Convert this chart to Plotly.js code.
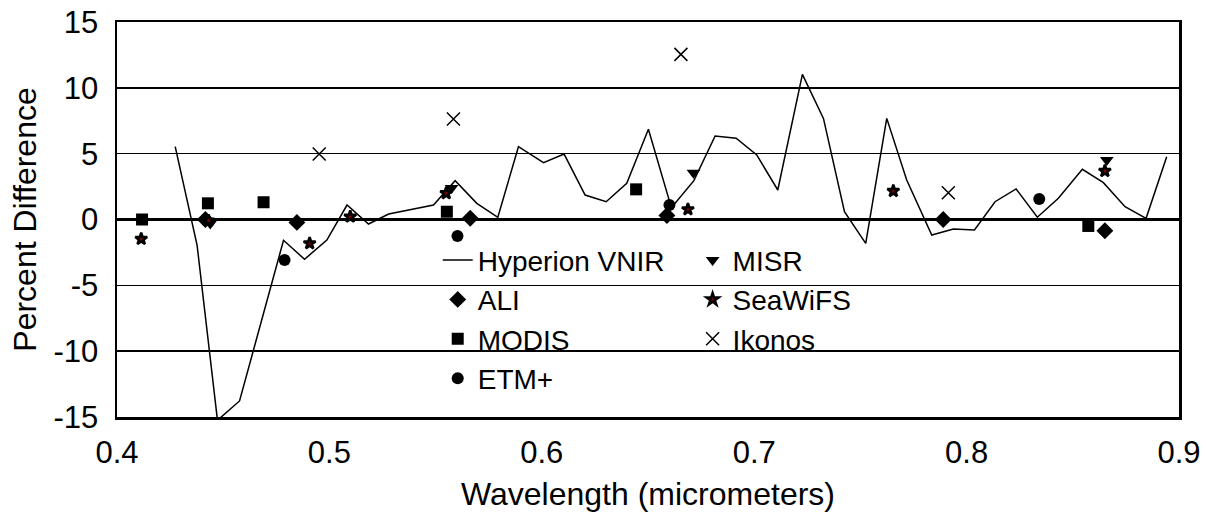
<!DOCTYPE html>
<html>
<head>
<meta charset="utf-8">
<script src="https://cdn.plot.ly/plotly-3.0.1.min.js"></script>
<style>html,body{margin:0;padding:0;background:#fff;}#chart{width:1206px;height:517px;}</style>
</head>
<body>
<div id="chart"></div>
<script>
// Hyperion VNIR continuous curve
const hyperionWl = [0.4274,0.4377,0.4473,0.4577,0.4784,0.4883,0.4988,0.5083,0.5184,0.5279,0.549,0.5592,0.5694,0.5793,0.589,0.6008,0.6105,0.6204,0.6303,0.64,0.6502,0.661,0.6716,0.6816,0.6915,0.7012,0.7111,0.7227,0.7326,0.7425,0.7525,0.7624,0.7718,0.7836,0.7938,0.8037,0.8134,0.8233,0.8333,0.8432,0.8545,0.8644,0.8746,0.8845,0.8942];
const hyperionVal = [5.53,-1.94,-15.25,-13.78,-1.58,-3.02,-1.56,1.10,-0.34,0.42,1.10,2.95,1.23,0.17,5.53,4.31,4.97,1.86,1.35,2.75,6.85,0.9,2.95,6.34,6.17,4.9,2.24,11.02,7.68,0.59,-1.81,7.68,3.0,-1.18,-0.72,-0.80,1.35,2.32,0.17,1.61,3.81,2.80,0.97,0.09,4.77];

const aliWl = [0.4416,0.4847,0.5663,0.6589,0.789,0.8651];
const aliVal = [0.0,-0.22,0.09,0.3,0.0,-0.85];

const modisWl = [0.4118,0.4428,0.469,0.5553,0.6444,0.8573];
const modisVal = [0.0,1.23,1.31,0.59,2.29,-0.49];

const etmWl = [0.4789,0.5603,0.6601,0.8342];
const etmVal = [-3.07,-1.25,1.1,1.56];

const misrWl = [0.4439,0.5575,0.6714,0.866];
const misrVal = [-0.3,2.4,3.56,4.52];

const seawifsWl = [0.4114,0.4431,0.4907,0.5098,0.555,0.6688,0.7655,0.8651];
const seawifsVal = [-1.48,-0.09,-1.81,0.21,1.99,0.77,2.16,3.68];

const ikonosWl = [0.4952,0.5584,0.6655,0.7914];
const ikonosVal = [4.97,7.63,12.54,2.03];

const yTickVals = [-15,-10,-5,0,5,10,15];
const yTickText = ["-15","-10","-5","0","5","10","15"];
const xTickVals = [0.4,0.5,0.6,0.7,0.8,0.9];
const xTickText = ["0.4","0.5","0.6","0.7","0.8","0.9"];

const FONT = "Liberation Sans, Arial, sans-serif";

const traces = [
  {x: hyperionWl, y: hyperionVal, name: "Hyperion VNIR", mode: "lines", line: {color: "#000", width: 1.5}, legend: "legend"},
  {x: aliWl, y: aliVal, name: "ALI", mode: "markers", marker: {symbol: "diamond", size: 13, color: "#000"}, legend: "legend"},
  {x: modisWl, y: modisVal, name: "MODIS", mode: "markers", marker: {symbol: "square", size: 12, color: "#000"}, legend: "legend"},
  {x: etmWl, y: etmVal, name: "ETM+", mode: "markers", marker: {symbol: "circle", size: 12, color: "#000"}, legend: "legend"},
  {x: misrWl, y: misrVal, name: "MISR", mode: "markers", marker: {symbol: "triangle-down", size: 12, color: "#000"}, legend: "legend2"},
  {x: seawifsWl, y: seawifsVal, name: "SeaWiFS", mode: "markers", marker: {symbol: "star", size: 9, color: "#8b0000", line: {color: "#000", width: 2.5}}, legend: "legend2"},
  {x: ikonosWl, y: ikonosVal, name: "Ikonos", mode: "markers", marker: {symbol: "x-thin-open", size: 13, color: "#000", line: {color: "#000", width: 1.5}}, legend: "legend2"}
];

const legendCommon = {
  bgcolor: "rgba(0,0,0,0)", borderwidth: 0,
  font: {family: FONT, size: 28, color: "#000"},
  yanchor: "top", xanchor: "left", tracegroupgap: 0
};

const layout = {
  width: 1206, height: 517,
  margin: {l: 117, r: 27, t: 22, b: 100},
  paper_bgcolor: "#fff", plot_bgcolor: "#fff",
  font: {family: FONT, size: 28, color: "#000"},
  showlegend: true,
  legend: Object.assign({x: 0.302, y: 0.46}, legendCommon),
  legend2: Object.assign({x: 0.542, y: 0.46}, legendCommon),
  xaxis: {
    range: [0.4, 0.9], tickvals: xTickVals, ticktext: xTickText,
    showgrid: false, zeroline: false,
    showline: true, mirror: true, linecolor: "#000", linewidth: 2.5,
    ticks: "", ticklabelstandoff: 6, tickfont: {family: FONT, size: 31, color: "#000"},
    title: {text: "Wavelength (micrometers)", font: {family: FONT, size: 32, color: "#000"}, standoff: 14}
  },
  yaxis: {
    range: [-15, 15], tickvals: yTickVals, ticktext: yTickText,
    showgrid: true, gridcolor: "#000", gridwidth: 1.5,
    zeroline: true, zerolinecolor: "#000", zerolinewidth: 2.5,
    showline: true, mirror: true, linecolor: "#000", linewidth: 2.5,
    ticks: "", ticklabelstandoff: 10, tickfont: {family: FONT, size: 31, color: "#000"},
    title: {text: "Percent Difference", font: {family: FONT, size: 32, color: "#000"}, standoff: 8}
  }
};

Plotly.newPlot("chart", traces, layout, {displayModeBar: false, staticPlot: true});
</script>
</body>
</html>
